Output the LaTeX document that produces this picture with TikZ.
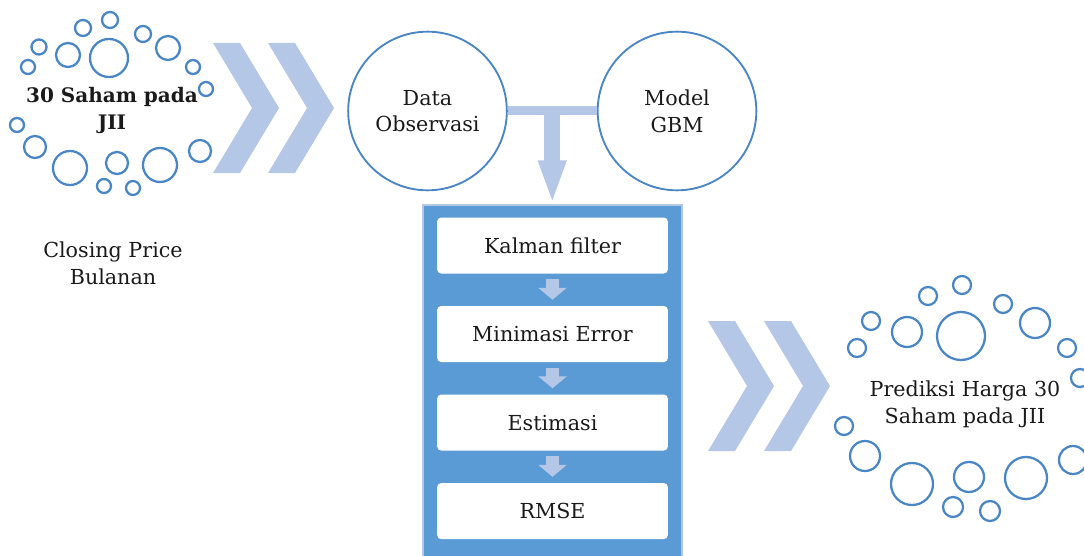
\documentclass[tikz,border=0pt]{standalone}
\usepackage{fontspec}
\setmainfont{DejaVu Serif}
\usetikzlibrary{positioning,arrows.meta,fit,calc}
\definecolor{chevblue}{HTML}{B4C7E7}
\definecolor{ringblue}{HTML}{4A86C5}
\definecolor{panelblue}{HTML}{5B9BD5}
\definecolor{inkgray}{HTML}{1A1A1A}
\tikzset{
 bubble/.style={draw=ringblue, line width=1.7pt},
 bigcircle/.style={circle, draw=ringblue, line width=1.4pt, minimum size=119pt, align=center, inner sep=0pt, text=inkgray},
 stepbox/.style={rectangle, rounded corners=3pt, fill=white, minimum width=173pt, minimum height=42pt, text=inkgray},
 chev/.style={fill=chevblue},
 flowarrow/.style={chevblue, line width=9.75pt, -{Triangle[width=21pt,length=9pt]}},
 txt/.style={align=center, text=inkgray}
}
\begin{document}
\begin{tikzpicture}[x=0.75pt, y=-0.75pt, font=\fontsize{15.5}{20}\selectfont]
\useasboundingbox (0,0) rectangle (1084,556);
\clip (0,0) rectangle (1084,556);
% bubbles, left and right
\foreach \x/\y/\r in {110/20/8, 83/28/8, 143/34/8, 39/47/7.5, 68/55/12, 109/58/19, 168/48/12,
  28/67/7, 193/67/7, 206/89/7, 17/125/7, 35/147/11, 70/168/17, 117/163/11, 160/165/17,
  200/151/11, 104/186/7, 133/188/7}
 \draw[bubble] (\x,\y) circle[radius=\r];
\foreach \x/\y/\r in {962/285/9, 928/296/9, 1003/304/9, 871/321/9, 907/332/15, 961/336/24,
  1035/323/15, 857/348/9, 1067/348/9, 1080/378/9, 844/426/9, 865/456/15, 912/484/21,
  969/477/15, 1026/478/21, 1073/460/14, 953/507/10, 990/511/10}
 \draw[bubble] (\x,\y) circle[radius=\r];
% chevrons
\foreach \x/\y in {213/108, 268/108, 708/386, 764/386}
 \fill[chev] (\x,\y-65) -- (\x+27,\y-65) -- (\x+66,\y) -- (\x+27,\y+65) -- (\x,\y+65) -- (\x+39,\y) -- cycle;
% inputs
\node[bigcircle] (obs) at (427.5,111) {Data\\Observasi};
\node[bigcircle] (gbm) at (677,111) {Model\\GBM};
% process panel
\node[fit={(423,205) (682,580)}, inner sep=0pt, fill=panelblue, draw=chevblue, line width=1pt] (panel) {};
\draw[chevblue, line width=6.75pt] (obs.east) -- (gbm.west) coordinate[pos=.5] (tee);
\draw[chevblue, line width=12pt, -{Triangle[width=19pt,length=33pt]}] (tee) -- (tee |- panel.north);
\node[stepbox] (kf) at (552.5,245.5) {Kalman filter};
\node[stepbox, below=24pt of kf] (me) {Minimasi Error};
\node[stepbox, below=24pt of me] (est) {Estimasi};
\node[stepbox, below=24pt of est] (rmse) {RMSE};
\foreach \a/\b in {kf/me, me/est, est/rmse}
 \draw[flowarrow, shorten <=4pt, shorten >=4.5pt] (\a.south) -- (\b.north);
% labels
\node[txt, font=\fontsize{15}{20}\selectfont\bfseries] (src) at (112,110.5) {30 Saham pada\\JII};
\node[txt] (cls) at (113,263) {Closing Price\\Bulanan};
\node[txt] (pred) at (965,404) {Prediksi Harga 30\\Saham pada JII};
\end{tikzpicture}
\end{document}
